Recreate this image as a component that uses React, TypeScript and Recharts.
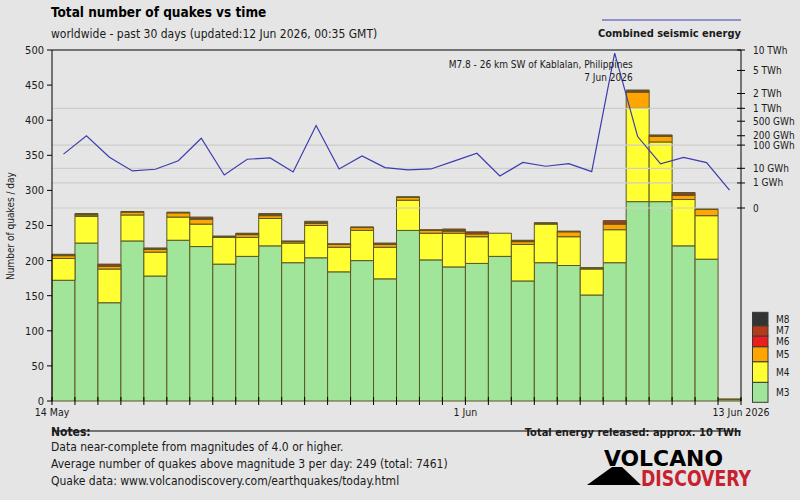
import { Bar, ComposedChart, Line, ReferenceDot, ReferenceLine, XAxis, YAxis } from "recharts";

const days = [
  "14 May", "15 May", "16 May", "17 May", "18 May", "19 May", "20 May", "21 May", "22 May", "23 May",
  "24 May", "25 May", "26 May", "27 May", "28 May", "29 May", "30 May", "31 May", "1 Jun", "2 Jun",
  "3 Jun", "4 Jun", "5 Jun", "6 Jun", "7 Jun", "8 Jun", "9 Jun", "10 Jun", "11 Jun", "12 Jun",
];

// daily counts per magnitude class
const m3 = [172, 225, 140, 228, 178, 229, 220, 195, 206, 221, 197, 204, 184, 200, 174, 243, 201, 191, 196, 206, 171, 197, 193, 151, 197, 284, 284, 221, 202, 2];
const m4 = [31, 38, 48, 37, 34, 33, 32, 38, 27, 39, 28, 46, 35, 43, 45, 43, 38, 48, 38, 33, 52, 55, 41, 37, 47, 133, 85, 66, 62, 1];
const m5 = [4, 2, 4, 4, 4, 6, 7, 1, 4, 4, 2, 3, 4, 4, 4, 4, 4, 3, 4, 0, 4, 1, 7, 1, 8, 23, 8, 6, 9, 0];
const m6 = [1, 1, 2, 0, 1, 0, 1, 0, 1, 2, 0, 1, 0, 0, 1, 0, 0, 1, 2, 0, 1, 0, 0, 0, 2, 1, 1, 2, 0, 0];
const m7 = [1, 1, 1, 1, 1, 1, 2, 1, 1, 1, 1, 2, 1, 1, 1, 1, 1, 2, 1, 0, 1, 1, 1, 1, 3, 2, 1, 2, 1, 0];
const m8 = [0, 0, 0, 0, 0, 0, 0, 0, 0, 0, 0, 0, 0, 0, 0, 0, 0, 0, 0, 0, 0, 0, 0, 0, 0, 0, 0, 0, 0, 0];

// combined seismic energy per day, GWh
const energyGWh = [46, 200, 34, 7.1, 8.9, 24, 168, 4.0, 28, 32, 6.2, 387, 9.2, 39, 10.9, 8.1, 9.2, 23, 50, 3.4, 20, 12.9, 17.5, 6.5, 9070, 189, 17, 34, 19.6, 0.19];

const magnitudes = ["M3", "M4", "M5", "M6", "M7", "M8"];
const magKeys = ["m3", "m4", "m5", "m6", "m7", "m8"];
const magColors = ["#a1e59b", "#ffff33", "#ffa502", "#ee1c1c", "#b53a1a", "#333333"];
const keyHeights = [20, 20.6, 15, 10.7, 10.3, 13.4];

const quakeTicks = [0, 50, 100, 150, 200, 250, 300, 350, 400, 450, 500];
const dayTicks = Array.from({ length: 31 }, (_, i) => i);
const edgeTicks = [0, 18, 30];
const edgeLabels = ["14 May", "1 Jun", "13 Jun 2026"];

const energyTicksGWh = [0, 1, 10, 100, 200, 500, 1000, 2000, 5000, 10000];
const energyTickLabels = ["0", "1 GWh", "10 GWh", "100 GWh", "200 GWh", "500 GWh", "1 TWh", "2 TWh", "5 TWh", "10 TWh"];
const energyGridGWh = [0, 1, 10, 100, 1000];

const quake = { label: "M7.8 - 26 km SW of Kablalan, Philippines", date: "7 Jun 2026", day: 24 };

// energy axis is a fifth-root scale
const EXP = 0.2;
const toE = (gwh: number) => Math.pow(gwh, EXP);
const eTop = toE(10000);
const eBottom = (-eTop * 193) / 158;

const rows = days.map((day, i) => ({
  day,
  pos: i + 0.5,
  m3: m3[i],
  m4: m4[i],
  m5: m5[i],
  m6: m6[i],
  m7: m7[i],
  m8: m8[i],
  energy: energyGWh[i],
}));

const FONT = "'DejaVu Sans Condensed', 'Liberation Sans', sans-serif";
const BG = "#e5e5e5";
const INK = "#1a1a1a";
const LINE = "#3c3cb0";
const PLOT_BOTTOM = 401;

function DayTick(props: any) {
  const { x, payload } = props;
  const i = edgeTicks.indexOf(payload.value);
  return (
    <g>
      <line x1={x} x2={x} y1={PLOT_BOTTOM - 4} y2={PLOT_BOTTOM + 4} stroke="#000" />
      {i >= 0 && (
        <text x={x} y={PLOT_BOTTOM + 15} textAnchor="middle" fontSize={10.5} fill={INK}>
          {edgeLabels[i]}
        </text>
      )}
    </g>
  );
}

function EnergyTick(props: any) {
  const { x, y, payload } = props;
  const axisX = x - 12;
  const i = energyTicksGWh.findIndex((g) => Math.abs(toE(g) - payload.value) < 1e-6);
  return (
    <g>
      <line x1={axisX - 4} x2={axisX + 4} y1={y} y2={y} stroke="#000" />
      <text x={axisX + 12} y={y} dy="0.35em" fontSize={10} fill={INK}>
        {i >= 0 ? energyTickLabels[i] : ""}
      </text>
    </g>
  );
}

function QuakeNote(props: any) {
  const { viewBox } = props;
  const x = viewBox.x + 18;
  const y = viewBox.y;
  return (
    <g fontSize={10} fill={INK}>
      <text x={x} y={y + 15} textAnchor="end">{quake.label}</text>
      <text x={x} y={y + 28} textAnchor="end">{quake.date}</text>
    </g>
  );
}

function MagnitudeKey() {
  let top = 402.3;
  const cells = magnitudes.map((m, i) => {
    top -= keyHeights[i];
    return { m, y: top, h: keyHeights[i], color: magColors[i] };
  });
  return (
    <g>
      {cells.map((c) => (
        <g key={c.m}>
          <rect x={752.5} y={c.y} width={15.5} height={c.h} fill={c.color} stroke="#3a3a3a" strokeWidth={1} />
          <text x={776} y={c.y + c.h / 2} dy="0.35em" fontSize={10} fill={INK}>
            {c.m}
          </text>
        </g>
      ))}
    </g>
  );
}

export default function App() {
  return (
    <div style={{ position: "fixed", left: 0, top: 0, width: 800, height: 500, background: BG, fontFamily: FONT }}>
      <ComposedChart
        width={800}
        height={500}
        data={rows}
        margin={{ top: 50, right: 0, bottom: 79, left: 0 }}
        barCategoryGap={0}
        barGap={0}
      >
        <XAxis
          xAxisId="t"
          dataKey="pos"
          type="number"
          domain={[0, 30]}
          ticks={dayTicks}
          interval={0}
          allowDataOverflow
          height={20}
          tickSize={4}
          tickMargin={2}
          tickLine={false}
          tick={<DayTick />}
          axisLine={{ stroke: "#000" }}
        />
        <XAxis xAxisId="cat" dataKey="day" hide />
        <YAxis
          yAxisId="q"
          domain={[0, 500]}
          ticks={quakeTicks}
          interval={0}
          width={52}
          tickSize={5}
          tickMargin={3}
          tick={{ fontSize: 11, fill: INK }}
          tickLine={{ stroke: "#000" }}
          axisLine={{ stroke: "#000" }}
          label={{
            content: () => (
              <text transform="translate(14,226) rotate(-90)" textAnchor="middle" fontSize={10} fill={INK}>
                Number of quakes / day
              </text>
            ),
          }}
        />
        <YAxis
          yAxisId="e"
          orientation="right"
          domain={[eBottom, eTop]}
          allowDataOverflow
          ticks={energyTicksGWh.map(toE)}
          interval={0}
          width={59}
          tickSize={4}
          tickMargin={8}
          tickLine={false}
          tick={<EnergyTick />}
          axisLine={{ stroke: "#000" }}
        />
        {energyGridGWh.map((g) => (
          <ReferenceLine key={g} xAxisId="t" yAxisId="e" y={toE(g)} stroke="#cdcdcd" strokeWidth={1.2} />
        ))}
        <ReferenceLine xAxisId="t" yAxisId="q" y={500} stroke="#000" />
        {magKeys.map((k, i) => (
          <Bar
            key={k}
            xAxisId="cat"
            yAxisId="q"
            dataKey={k}
            stackId="mag"
            fill={magColors[i]}
            stroke="#5b5526"
            strokeWidth={1}
            isAnimationActive={false}
          />
        ))}
        <Line
          xAxisId="t"
          yAxisId="e"
          dataKey={(r: any) => toE(r.energy)}
          type="linear"
          stroke={LINE}
          strokeWidth={1.2}
          dot={false}
          isAnimationActive={false}
        />
        <ReferenceDot
          xAxisId="t"
          yAxisId="e"
          x={quake.day + 0.5}
          y={toE(energyGWh[quake.day])}
          r={0}
          stroke="none"
          label={<QuakeNote />}
        />
      </ComposedChart>

      <svg width={800} height={500} style={{ position: "absolute", left: 0, top: 0, pointerEvents: "none" }}>
        <text x={51} y={17} fontSize={13.5} fontWeight="bold" fill="#000">
          Total number of quakes vs time
        </text>
        <text x={51} y={38} fontSize={12} fill={INK}>
          worldwide - past 30 days (updated:12 Jun 2026, 00:35 GMT)
        </text>

        <line x1={602} x2={741} y1={20} y2={20} stroke={LINE} strokeWidth={1.2} />
        <text x={741} y={37} textAnchor="end" fontSize={11} fontWeight="bold" fill={INK}>
          Combined seismic energy
        </text>

        <MagnitudeKey />

        <text x={51} y={436} fontSize={12} fontWeight="bold" fill={INK}>
          Notes:
        </text>
        <text x={51} y={451} fontSize={12} fill={INK}>
          Data near-complete from magnitudes of 4.0 or higher.
        </text>
        <text x={51} y={468} fontSize={12} fill={INK}>
          Average number of quakes above magnitude 3 per day: 249 (total: 7461)
        </text>
        <text x={51} y={485} fontSize={12} fill={INK}>
          Quake data: www.volcanodiscovery.com/earthquakes/today.html
        </text>
        <text x={741} y={436} textAnchor="end" fontSize={11} fontWeight="bold" fill={INK}>
          Total energy released: approx. 10 TWh
        </text>

        <polygon points="587,485 612,467 622,467 641,485" fill="#000" />
        <text x={604} y={466} fontSize={22} fontWeight="bold" fill="#000" textLength={119} lengthAdjust="spacingAndGlyphs">
          VOLCANO
        </text>
        <text x={641} y={486} fontSize={22} fontWeight="bold" fill="#c8202e" textLength={110} lengthAdjust="spacingAndGlyphs">
          DISCOVERY
        </text>
      </svg>
    </div>
  );
}
